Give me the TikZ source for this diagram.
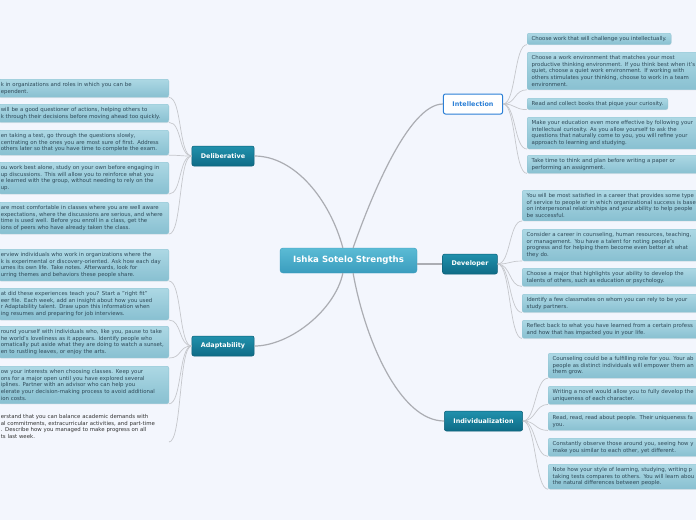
\documentclass[tikz,border=0pt]{standalone}
\usepackage{fontspec}
\setmainfont{DejaVu Sans}
\usetikzlibrary{positioning, shadows}
\definecolor{bgcol}{HTML}{F3F6FD}
\definecolor{leaftop}{HTML}{ADD8E4}
\definecolor{leafbot}{HTML}{88C0D1}
\definecolor{leafedge}{HTML}{92C5D4}
\definecolor{leaftext}{HTML}{2F4A59}
\definecolor{subtop}{HTML}{2191AD}
\definecolor{subbot}{HTML}{0E6B86}
\definecolor{subedge}{HTML}{0B5E76}
\definecolor{centop}{HTML}{5BBBD5}
\definecolor{cenbot}{HTML}{3A9DBE}
\definecolor{linecol}{HTML}{C5C7CC}
\definecolor{mainline}{HTML}{ABADB3}
\definecolor{intelblue}{HTML}{2B7FD6}
\newcommand{\leaffont}{\fontsize{5.4}{6.8}\selectfont\hyphenpenalty=10000}

\begin{document}
\begin{tikzpicture}[
        x=1pt, y=-1pt,
        %% Grid: pixel coordinates, y grows downwards.
        leaf/.style={rectangle, rounded corners=2pt, draw=leafedge, line width=0.4pt, top color=leaftop, bottom color=leafbot, inner xsep=4.5pt, inner ysep=3pt, align=left, font=\leaffont, text=leaftext, drop shadow={opacity=0.12, shadow xshift=0.4pt, shadow yshift=-0.8pt}},
        rightleaf/.style={leaf, text width=185pt},
        leftleaf/.style={leaf, inner xsep=2pt, text width=166pt},
        plainleaf/.style={inner xsep=2pt, inner ysep=3pt, align=left, font=\leaffont, text=black!80, text width=166pt},
        branch/.style={rectangle, rounded corners=2pt, draw=subedge, line width=0.5pt, top color=subtop, bottom color=subbot, minimum height=20pt, inner xsep=9pt, font=\fontsize{6.4}{7}\selectfont\bfseries, text=white},
        selbranch/.style={rectangle, rounded corners=2pt, draw=intelblue, line width=1pt, fill=white, minimum height=20pt, inner xsep=9pt, font=\fontsize{6.4}{7}\selectfont\bfseries, text=intelblue},
        central/.style={rectangle, rounded corners=3pt, draw=cenbot, line width=0.4pt, top color=centop, bottom color=cenbot, minimum width=137pt, minimum height=25pt, font=\fontsize{8.6}{9}\selectfont\bfseries, text=white},
        mainlink/.style={draw=mainline, line width=1.2pt},
        leaflink/.style={draw=linecol, line width=0.7pt}
    ]
    \clip (0,0) rectangle (696,520);
    \fill[bgcol] (0,0) rectangle (696,520);

    %% --- Central topic ---
    \node[central] (center) at (348.5, 260.5) {Ishka Sotelo Strengths};

    %% --- Main branches ---
    \node[branch]    (delib) at (223, 156) {Deliberative};
    \node[branch]    (adapt) at (223, 346) {Adaptability};
    \node[selbranch] (intel) at (473, 104) {Intellection};
    \node[branch]    (dev)   at (470, 264) {Developer};
    \node[branch]    (indiv) at (483.5, 421) {Individualization};

    %% --- Deliberative leaves (clipped at the left edge) ---
    \node[leftleaf, anchor=north east] (d1) at (169, 79) {k in organizations and roles in which you can be\\ependent.};
    \node[leftleaf, anchor=north east] (d2) at (169, 104) {will be a good questioner of actions, helping others to\\k through their decisions before moving ahead too quickly.};
    \node[leftleaf, anchor=north east] (d3) at (169, 130) {en taking a test, go through the questions slowly,\\centrating on the ones you are most sure of first. Address\\others later so that you have time to complete the exam.};
    \node[leftleaf, anchor=north east] (d4) at (169, 162) {ou work best alone, study on your own before engaging in\\up discussions. This will allow you to reinforce what you\\e learned with the group, without needing to rely on the\\up.};
    \node[leftleaf, anchor=north east] (d5) at (169, 202) {are most comfortable in classes where you are well aware\\expectations, where the discussions are serious, and where\\time is used well. Before you enroll in a class, get the\\ions of peers who have already taken the class.};

    %% --- Adaptability leaves ---
    \node[leftleaf, anchor=north east] (a1) at (169, 249) {erview individuals who work in organizations where the\\k is experimental or discovery-oriented. Ask how each day\\umes its own life. Take notes. Afterwards, look for\\urring themes and behaviors these people share.};
    \node[leftleaf, anchor=north east] (a2) at (169, 288) {at did these experiences teach you? Start a "right fit"\\eer file. Each week, add an insight about how you used\\r Adaptability talent. Draw upon this information when\\ing resumes and preparing for job interviews.};
    \node[leftleaf, anchor=north east] (a3) at (169, 326) {round yourself with individuals who, like you, pause to take\\he world's loveliness as it appears. Identify people who\\omatically put aside what they are doing to watch a sunset,\\en to rustling leaves, or enjoy the arts.};
    \node[leftleaf, anchor=north east] (a4) at (169, 366) {ow your interests when choosing classes. Keep your\\ons for a major open until you have explored several\\iplines. Partner with an advisor who can help you\\elerate your decision-making process to avoid additional\\ion costs.};
    \node[plainleaf, anchor=north east] (a5) at (169, 411) {erstand that you can balance academic demands with\\al commitments, extracurricular activities, and part-time\\. Describe how you managed to make progress on all\\ts last week.};

    %% --- Intellection leaves ---
    \node[leaf, anchor=north west]      (i1) at (527, 33) {Choose work that will challenge you intellectually.};
    \node[rightleaf, anchor=north west] (i2) at (527, 52) {Choose a work environment that matches your most\\productive thinking environment. If you think best when it's\\quiet, choose a quiet work environment. If working with\\others stimulates your thinking, choose to work in a team\\environment.};
    \node[leaf, anchor=north west]      (i3) at (527, 98) {Read and collect books that pique your curiosity.};
    \node[rightleaf, anchor=north west] (i4) at (527, 117) {Make your education even more effective by following your\\intellectual curiosity. As you allow yourself to ask the\\questions that naturally come to you, you will refine your\\approach to learning and studying.};
    \node[rightleaf, anchor=north west] (i5) at (527, 155) {Take time to think and plan before writing a paper or\\performing an assignment.};

    %% --- Developer leaves ---
    \node[rightleaf, anchor=north west] (v1) at (522, 190) {You will be most satisfied in a career that provides some type\\of service to people or in which organizational success is base\\on interpersonal relationships and your ability to help people\\be successful.};
    \node[rightleaf, anchor=north west] (v2) at (522, 229) {Consider a career in counseling, human resources, teaching,\\or management. You have a talent for noting people's\\progress and for helping them become even better at what\\they do.};
    \node[rightleaf, anchor=north west] (v3) at (522, 268) {Choose a major that highlights your ability to develop the\\talents of others, such as education or psychology.};
    \node[rightleaf, anchor=north west] (v4) at (522, 294) {Identify a few classmates on whom you can rely to be your\\study partners.};
    \node[rightleaf, anchor=north west] (v5) at (522, 320) {Reflect back to what you have learned from a certain profess\\and how that has impacted you in your life.};

    %% --- Individualization leaves (clipped at the right edge) ---
    \node[rightleaf, anchor=north west] (n1) at (548, 353) {Counseling could be a fulfilling role for you. Your ab\\people as distinct individuals will empower them an\\them grow.};
    \node[rightleaf, anchor=north west] (n2) at (548, 386) {Writing a novel would allow you to fully develop the\\uniqueness of each character.};
    \node[rightleaf, anchor=north west] (n3) at (548, 412) {Read, read, read about people. Their uniqueness fa\\you.};
    \node[rightleaf, anchor=north west] (n4) at (548, 438) {Constantly observe those around you, seeing how y\\make you similar to each other, yet different.};
    \node[rightleaf, anchor=north west] (n5) at (548, 464) {Note how your style of learning, studying, writing p\\taking tests compares to others. You will learn abou\\the natural differences between people.};

    %% --- Central connectors ---
    \draw[mainlink] (center.114) .. controls (330, 200) and (295, 156) .. (delib.east);
    \draw[mainlink] (center.246) .. controls (335, 310) and (290, 346) .. (adapt.east);
    \draw[mainlink] (center.70)  .. controls (370, 200) and (408, 104) .. (intel.west);
    \draw[mainlink] (center.290) .. controls (365, 340) and (400, 421) .. (indiv.west);
    \draw[mainlink] (dev.west) -- (dev.west -| center.east);

    %% --- Leaf connectors ---
    \foreach \n in {d1, d2, d3, d4, d5}
        \draw[leaflink] (delib.west) .. controls +(-13, 0) and +(13, 0) .. (\n.south east);
    \foreach \n in {a1, a2, a3, a4, a5}
        \draw[leaflink] (adapt.west) .. controls +(-13, 0) and +(13, 0) .. (\n.south east);
    \foreach \n in {i1, i2, i3, i4, i5}
        \draw[leaflink] (intel.east) .. controls +(13, 0) and +(-13, 0) .. (\n.south west);
    \foreach \n in {v1, v2, v3, v4, v5}
        \draw[leaflink] (dev.east) .. controls +(13, 0) and +(-13, 0) .. (\n.south west);
    \foreach \n in {n1, n2, n3, n4, n5}
        \draw[leaflink] (indiv.east) .. controls +(13, 0) and +(-13, 0) .. (\n.south west);
\end{tikzpicture}
\end{document}
